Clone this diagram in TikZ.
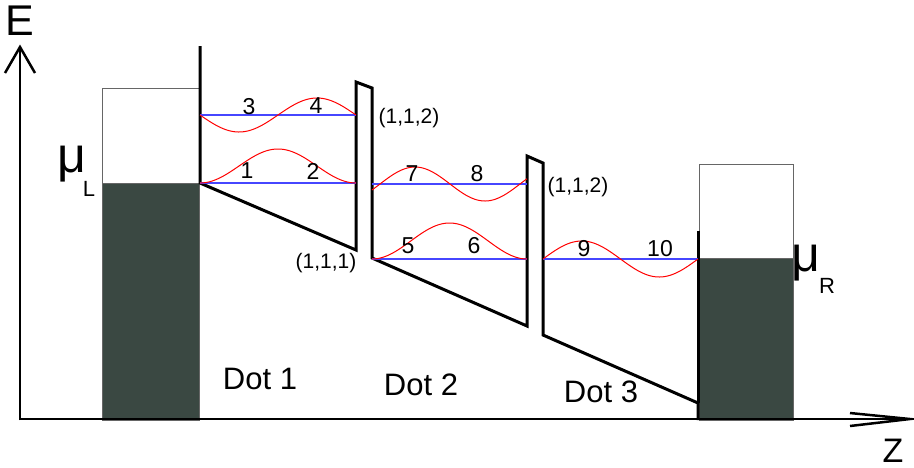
\documentclass[tikz,border=0pt]{standalone}
\usepackage{fontspec}
\setmainfont{Liberation Sans}
\definecolor{lead}{RGB}{58,72,66}
\definecolor{lvl}{RGB}{70,70,255}
\begin{document}
\begin{tikzpicture}[x=1pt,y=-1pt,
  axis/.style={line width=2.5pt,black},
  wall/.style={line width=3pt,black,line join=miter},
  level/.style={lvl,line width=1.4pt},
  wave/.style={red,line width=1pt},
  box/.style={draw=black!60,line width=1pt},
  num/.style={inner sep=0pt,font=\fontsize{23}{23}\selectfont},
  idx/.style={inner sep=0pt,font=\fontsize{21}{21}\selectfont},
  dotlab/.style={inner sep=0pt,font=\fontsize{31}{31}\selectfont},
  bigE/.style={inner sep=0pt,font=\fontsize{43}{43}\selectfont},
  bigZ/.style={inner sep=0pt,font=\fontsize{34}{34}\selectfont},
  mu/.style={inner sep=0pt,font=\fontsize{50}{50}\selectfont},
  sub/.style={inner sep=0pt,font=\fontsize{22}{22}\selectfont}]
\useasboundingbox (0,0) rectangle (914,467);
% leads
\fill[white,box] (102,88) rectangle (199,183);
\fill[lead,box] (102,183) rectangle (199,420);
\fill[white,box] (699,164) rectangle (793,258);
\fill[lead,box] (699,258) rectangle (793,420);
% axes
\coordinate (o) at (20,420);
\coordinate (etip) at (20,47);
\coordinate (ztip) at (910,419);
\draw[axis] (o) -- (etip);
\draw[axis] (5,73) -- (etip) -- (35,73);
\draw[axis] (o) -- (20,419) -- (ztip);
\draw[axis] (850,413) -- (ztip) -- (850,426);
\node[bigE] (E) at (20,21) {E};
\node[bigZ] (Z) at (893,451) {Z};
% walls
\draw[wall] (200,46) -- (200,183) -- (356,250) -- (356,82) -- (372,88) -- (372,258)
  -- (527,326) -- (527,156) -- (543,163) -- (543,335) -- (698,403) -- (698,420);
\draw[wall] (698,231) -- (698,403);
% levels
\draw[level] (200,115) -- (356,115);
\draw[level] (200,183) -- (356,183);
\draw[level] (372,184) -- (527,184);
\draw[level] (372,259) -- (527,259);
\draw[level] (543,259) -- (698,259);
% waves
\draw[wave] plot[domain=200:356,samples=90] (\x,{115+17*sin((\x-200)/156*360)});
\draw[wave] plot[domain=200:356,samples=90] (\x,{183-17*(1-cos((\x-200)/156*360))});
\draw[wave] plot[domain=372:527,samples=90] (\x,{184-17*sin((\x-380)/140*360)});
\draw[wave] plot[domain=372:527,samples=90] (\x,{259-18*(1-cos((\x-372)/155*360))});
\draw[wave] plot[domain=543:698,samples=90] (\x,{259-18*sin((\x-543)/155*360)});
% numbers
\node[num] (n3) at (249,107) {3};
\node[num] (n4) at (316,106) {4};
\node[num] (n1) at (247,171) {1};
\node[num] (n2) at (313,171) {2};
\node[num] (n7) at (412,174) {7};
\node[num] (n8) at (477,174) {8};
\node[num] (n5) at (408,246) {5};
\node[num] (n6) at (474,246) {6};
\node[num] (n9) at (584,249) {9};
\node[num] (n10) at (660,249) {10};
% indices
\node[idx] (i1) at (409,118) {(1,1,2)};
\node[idx] (i2) at (578,187) {(1,1,2)};
\node[idx] (i3) at (326,263) {(1,1,1)};
% dot labels
\node[dotlab] (d1) at (260,379) {Dot 1};
\node[dotlab] (d2) at (421,385) {Dot 2};
\node[dotlab] (d3) at (601,392) {Dot 3};
% chemical potentials
\node[mu] (muL) at (72,164) {μ};
\node[sub] (subL) at (89,189) {L};
\node[mu] (muR) at (806,263) {μ};
\node[sub] (subR) at (827,286) {R};
\end{tikzpicture}
\end{document}
